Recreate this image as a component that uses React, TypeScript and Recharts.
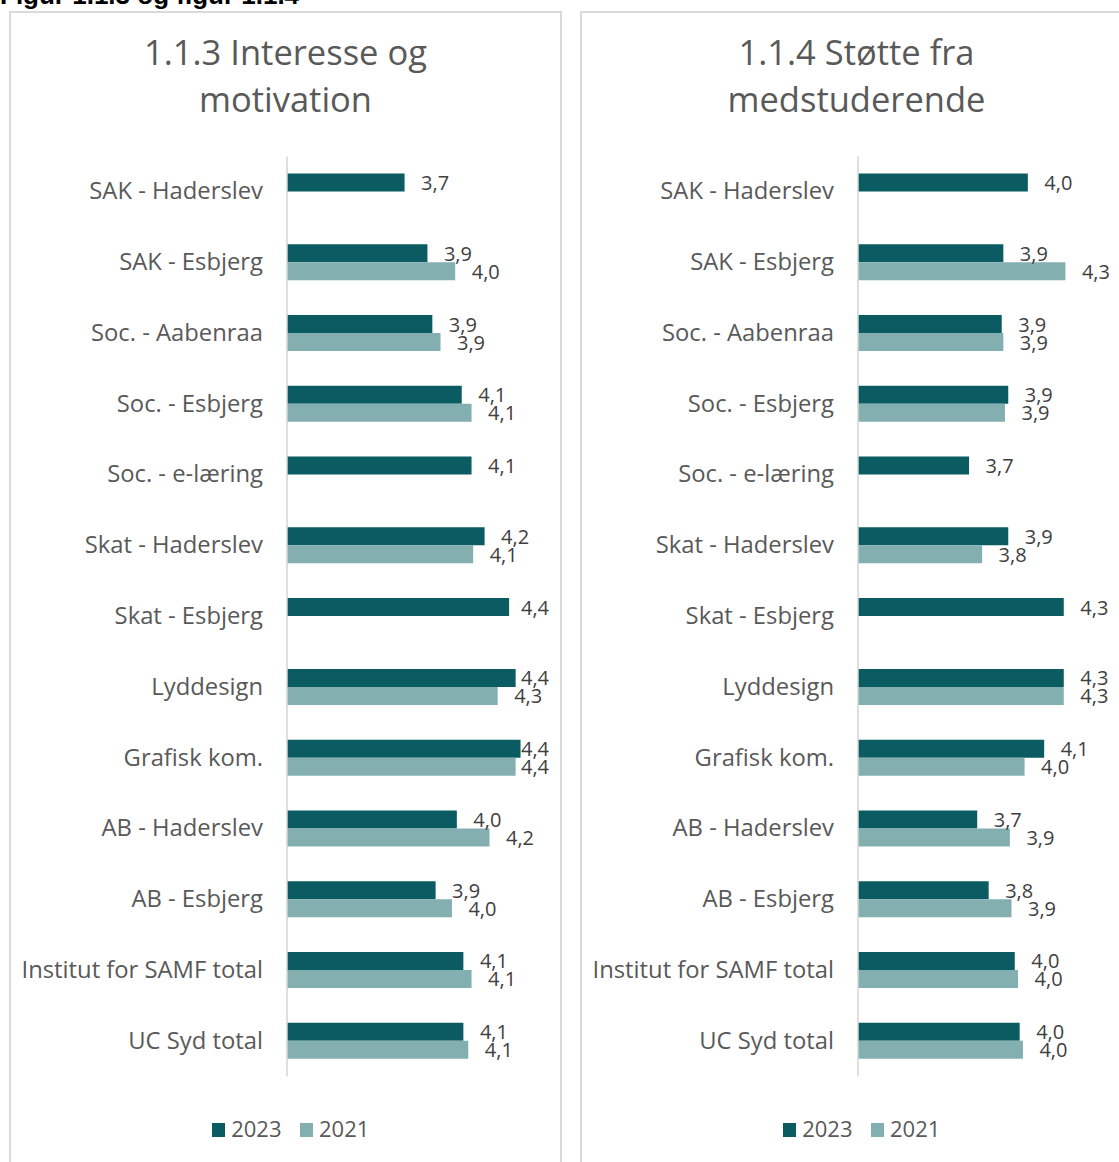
import React from "react";
import { BarChart, Bar, XAxis, YAxis, LabelList } from "recharts";

const categories = [
  "SAK - Haderslev",
  "SAK - Esbjerg",
  "Soc. - Aabenraa",
  "Soc. - Esbjerg",
  "Soc. - e-læring",
  "Skat - Haderslev",
  "Skat - Esbjerg",
  "Lyddesign",
  "Grafisk kom.",
  "AB - Haderslev",
  "AB - Esbjerg",
  "Institut for SAMF total",
  "UC Syd total",
];

const seriesNames = ["2023", "2021"];

const interesse2023 = [3.72, 3.86, 3.89, 4.07, 4.13, 4.21, 4.36, 4.4, 4.43, 4.04, 3.91, 4.08, 4.08];
const interesse2021 = [null, 4.03, 3.94, 4.13, null, 4.14, null, 4.29, 4.4, 4.24, 4.01, 4.13, 4.11];

const stoette2023 = [4.04, 3.89, 3.88, 3.92, 3.68, 3.92, 4.26, 4.26, 4.14, 3.73, 3.8, 3.96, 3.99];
const stoette2021 = [null, 4.27, 3.89, 3.9, null, 3.76, null, 4.26, 4.02, 3.93, 3.94, 3.98, 4.01];

const titleLeft = ["1.1.3 Interesse og", "motivation"];
const titleRight = ["1.1.4 Støtte fra", "medstuderende"];
const caption = "Figur 1.1.3 og figur 1.1.4";

const COLOR_2023 = "#0b5c62";
const COLOR_2021 = "#83afb1";
const TEXT_GRAY = "#595959";
const FONT = "'Open Sans', Lato, sans-serif";

const fmt = (v: number) => v.toFixed(1).replace(".", ",");

const buildData = (a: (number | null)[], b: (number | null)[]) =>
  categories.map((name, i) => ({ name, v2023: a[i], v2021: b[i] }));

const makeLabel = (maxStart: number) => (props: any) => {
  const { x, y, width, height, value } = props;
  if (value == null) return null;
  const bx = Number(x) + Number(width);
  const tx = Math.min(bx + 16.5, maxStart);
  const cy = Number(y) + Number(height) / 2;
  return (
    <text x={tx} y={cy + 7.5} fontSize={20} fontFamily="'Open Sans', sans-serif" fill="#404040">
      {fmt(Number(value))}
    </text>
  );
};

const CategoryTick = (props: any) => {
  const { x, y, payload } = props;
  return (
    <text x={x} y={Number(y) + 7.5} textAnchor="end" fontSize={23.8} fontFamily={FONT} fill={TEXT_GRAY}>
      {payload.value}
    </text>
  );
};

type PanelProps = {
  left: number;
  title: string[];
  a: (number | null)[];
  b: (number | null)[];
  maxLabelStart: number;
};

const Panel = ({ left, title, a, b, maxLabelStart }: PanelProps) => {
  const data = buildData(a, b);
  return (
    <div style={{ position: "absolute", left, top: 0, width: 562, height: 1162 }}>
      <div
        style={{
          position: "absolute",
          left: 9,
          top: 11,
          width: 553,
          height: 1200,
          boxSizing: "border-box",
          border: "2px solid #dadada",
        }}
      />
      <div
        style={{
          position: "absolute",
          left: 9,
          width: 553,
          top: 28,
          textAlign: "center",
          fontFamily: FONT,
          fontSize: 34.5,
          lineHeight: "47px",
          color: TEXT_GRAY,
          whiteSpace: "nowrap",
        }}
      >
        <div>{title[0]}</div>
        <div>{title[1]}</div>
      </div>
      <div style={{ position: "absolute", left: 0, top: 140 }}>
        <BarChart
          width={562}
          height={1000}
          data={data}
          layout="vertical"
          barGap={0}
          margin={{ top: 16.6, right: 13.7, bottom: 63.6, left: 0 }}
        >
          <XAxis type="number" domain={[3, 4.6]} hide />
          <YAxis
            type="category"
            dataKey="name"
            width={287}
            interval={0}
            tickLine={false}
            tickSize={8}
            tickMargin={16}
            axisLine={{ stroke: "#d4d4d4", strokeWidth: 1.5 }}
            tick={<CategoryTick />}
          />
          <Bar dataKey="v2023" name={seriesNames[0]} fill={COLOR_2023} barSize={18} isAnimationActive={false}>
            <LabelList dataKey="v2023" content={makeLabel(maxLabelStart)} />
          </Bar>
          <Bar dataKey="v2021" name={seriesNames[1]} fill={COLOR_2021} barSize={18} isAnimationActive={false}>
            <LabelList dataKey="v2021" content={makeLabel(maxLabelStart)} />
          </Bar>
        </BarChart>
      </div>
      <div
        style={{
          position: "absolute",
          left: 0,
          width: 581,
          top: 1117,
          display: "flex",
          justifyContent: "center",
          alignItems: "center",
          fontFamily: FONT,
          fontSize: 22,
          lineHeight: "22px",
          color: TEXT_GRAY,
        }}
      >
        {seriesNames.map((s, i) => (
          <div key={s} style={{ display: "flex", alignItems: "center", marginRight: i === 0 ? 18 : 0 }}>
            <div
              style={{
                width: 13.5,
                height: 13.5,
                background: i === 0 ? COLOR_2023 : COLOR_2021,
                marginRight: 6,
                marginTop: 4,
              }}
            />
            <span>{s}</span>
          </div>
        ))}
      </div>
    </div>
  );
};

export default function App() {
  return (
    <div
      style={{
        position: "absolute",
        left: 0,
        top: 0,
        width: 1119,
        height: 1162,
        overflow: "hidden",
        background: "#ffffff",
      }}
    >
      <div
        style={{
          position: "absolute",
          left: 0,
          top: -18.5,
          fontFamily: "'Liberation Sans', Arial, sans-serif",
          fontWeight: "bold",
          fontSize: 26,
          lineHeight: "26px",
          color: "#000",
          whiteSpace: "nowrap",
        }}
      >
        {caption}
      </div>
      <Panel left={0} title={titleLeft} a={interesse2023} b={interesse2021} maxLabelStart={521} />
      <Panel left={571} title={titleRight} a={stoette2023} b={stoette2021} maxLabelStart={2000} />
    </div>
  );
}
